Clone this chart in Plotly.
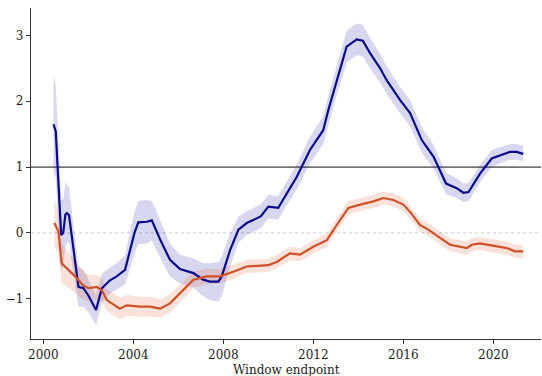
import plotly.graph_objects as go

# Blue series
years_b = [2000.45, 2000.55, 2000.79, 2000.88, 2000.98, 2001.04, 2001.14, 2001.56, 2001.78, 2002.0,
           2002.34, 2002.6, 2002.96, 2003.26, 2003.63, 2003.85, 2004.05, 2004.22, 2004.6, 2004.82,
           2005.19, 2005.63, 2006.07, 2006.67, 2007.1, 2007.4, 2007.78, 2007.93, 2008.3, 2008.67,
           2009.04, 2009.66, 2010.0, 2010.44, 2010.82, 2011.26, 2011.85, 2012.44, 2012.67, 2013.04,
           2013.48, 2013.93, 2014.2, 2014.52, 2014.97, 2015.26, 2015.85, 2016.3, 2016.82, 2017.34,
           2017.9, 2018.37, 2018.67, 2018.9, 2019.41, 2019.93, 2020.3, 2020.74, 2021.04, 2021.33]
blue = [1.65, 1.54, -0.03, 0.0, 0.28, 0.30, 0.27, -0.82, -0.84, -0.95,
        -1.17, -0.84, -0.72, -0.66, -0.56, -0.26, 0.0, 0.16, 0.17, 0.19,
        -0.10, -0.41, -0.55, -0.61, -0.71, -0.74, -0.74, -0.66, -0.26, 0.05,
        0.15, 0.25, 0.40, 0.38, 0.60, 0.85, 1.26, 1.56, 1.87, 2.32,
        2.83, 2.94, 2.92, 2.73, 2.50, 2.32, 2.02, 1.82, 1.41, 1.16,
        0.75, 0.68, 0.61, 0.62, 0.90, 1.13, 1.18, 1.23, 1.23, 1.20]
blue_hw = [0.75, 0.70, 0.55, 0.50, 0.48, 0.45, 0.42, 0.30, 0.28, 0.25,
           0.23, 0.22, 0.20, 0.20, 0.22, 0.28, 0.32, 0.33, 0.33, 0.30,
           0.28, 0.25, 0.22, 0.22, 0.25, 0.28, 0.30, 0.30, 0.25, 0.20,
           0.18, 0.18, 0.18, 0.18, 0.18, 0.19, 0.20, 0.21, 0.22, 0.23,
           0.24, 0.24, 0.24, 0.23, 0.22, 0.21, 0.20, 0.20, 0.19, 0.18,
           0.16, 0.15, 0.14, 0.14, 0.13, 0.13, 0.12, 0.12, 0.12, 0.12]

# Orange series
years_o = [2000.49, 2000.67, 2000.81, 2001.11, 2001.41, 2001.78, 2002.0, 2002.37, 2002.6, 2002.82,
           2003.19, 2003.4, 2003.7, 2004.3, 2004.74, 2005.19, 2005.63, 2006.07, 2006.37, 2006.67,
           2007.26, 2007.85, 2008.44, 2009.04, 2010.0, 2010.37, 2010.96, 2011.41, 2012.0, 2012.6,
           2013.04, 2013.56, 2014.08, 2014.67, 2015.11, 2015.56, 2016.0, 2016.3, 2016.74, 2017.11,
           2017.65, 2018.08, 2018.82, 2019.04, 2019.41, 2020.15, 2020.6, 2020.96, 2021.33]
orange = [0.15, 0.02, -0.46, -0.56, -0.66, -0.80, -0.84, -0.82, -0.87, -1.02,
          -1.10, -1.15, -1.10, -1.12, -1.12, -1.15, -1.07, -0.92, -0.82, -0.71,
          -0.66, -0.66, -0.59, -0.51, -0.49, -0.44, -0.31, -0.33, -0.21, -0.11,
          0.12, 0.38, 0.43, 0.48, 0.53, 0.50, 0.43, 0.32, 0.12, 0.05,
          -0.08, -0.18, -0.23, -0.18, -0.16, -0.21, -0.23, -0.28, -0.28]
orange_hw = [0.35, 0.32, 0.30, 0.27, 0.25, 0.22, 0.20, 0.19, 0.18, 0.17,
             0.17, 0.16, 0.16, 0.15, 0.15, 0.14, 0.14, 0.13, 0.13, 0.12,
             0.12, 0.11, 0.11, 0.10, 0.10, 0.10, 0.10, 0.10, 0.10, 0.10,
             0.10, 0.10, 0.10, 0.10, 0.10, 0.10, 0.10, 0.10, 0.10, 0.10,
             0.10, 0.10, 0.10, 0.10, 0.10, 0.10, 0.10, 0.10, 0.10]

x_ticks = [2000, 2004, 2008, 2012, 2016, 2020]
y_ticks = [-1, 0, 1, 2, 3]
x_title = "Window endpoint"

BLUE = "#0a0a8c"
ORANGE = "#cf5128"

def band(xs, ys, hw, color):
    upper = [y + h for y, h in zip(ys, hw)]
    lower = [y - h for y, h in zip(ys, hw)]
    return go.Scatter(x=list(xs) + list(xs)[::-1], y=upper + lower[::-1],
                      fill="toself", fillcolor=color, line=dict(width=0),
                      mode="lines", hoverinfo="skip", showlegend=False)

fig = go.Figure()
fig.add_trace(band(years_b, blue, blue_hw, "rgba(20,20,160,0.17)"))
fig.add_trace(band(years_o, orange, orange_hw, "rgba(225,90,50,0.18)"))
fig.add_trace(go.Scatter(x=years_b, y=blue, mode="lines",
                         line=dict(color=BLUE, width=2.2), showlegend=False))
fig.add_trace(go.Scatter(x=years_o, y=orange, mode="lines",
                         line=dict(color=ORANGE, width=2.2), showlegend=False))

fig.add_shape(type="line", xref="paper", x0=0, x1=1, yref="y", y0=1, y1=1,
              line=dict(color="#757575", width=1.6), layer="below")
fig.add_shape(type="line", xref="paper", x0=0, x1=1, yref="y", y0=0, y1=0,
              line=dict(color="#cccccc", width=1, dash="dot"), layer="below")

font = dict(family="DejaVu Serif", size=12, color="#222222")
fig.add_annotation(text=x_title, xref="paper", x=0.5, yref="paper", y=0,
                   yshift=-31, yanchor="middle", showarrow=False, font=font)

fig.update_layout(
    width=542, height=376,
    margin=dict(l=31, r=1, t=8, b=37),
    paper_bgcolor="white", plot_bgcolor="white",
    font=font,
    xaxis=dict(range=[1999.45, 2022.12], tickvals=x_ticks, ticktext=[str(v) for v in x_ticks],
               showgrid=False, zeroline=False, showline=True, linecolor="#333333", linewidth=1.2,
               ticks="outside", ticklen=4, tickcolor="#333333", automargin=False),
    yaxis=dict(range=[-1.611, 3.416], tickvals=y_ticks,
               showgrid=False, zeroline=False, showline=True, linecolor="#333333", linewidth=1.2,
               ticks="outside", ticklen=4, tickcolor="#333333", automargin=False),
)

fig.write_html("out.html", config={"displayModeBar": False},
               post_script="document.body.style.margin='0';document.body.style.overflow='hidden';")
